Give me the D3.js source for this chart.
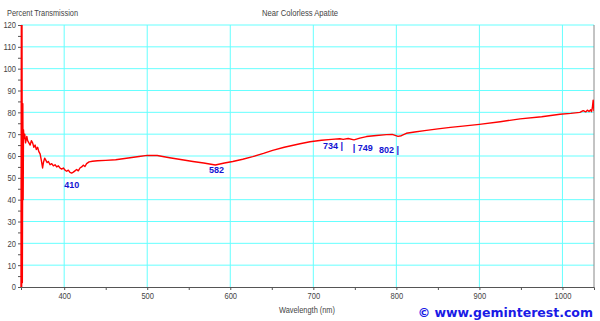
<!DOCTYPE html>
<html lang="en">
<head>
  <meta charset="UTF-8">
  <title>Near Colorless Apatite</title>
  <script src="https://d3js.org/d3.v7.min.js"></script>
  <style>
    body { margin: 0; background: #fff; }
    .lbl { font-family: "Liberation Sans", Arial, sans-serif; fill: #444; }
    .tick text { font-family: "Liberation Sans", Arial, sans-serif; fill: #444; font-size: 9px; }
    .peak { font-family: "Liberation Sans", Arial, sans-serif; font-weight: bold; fill: #1414d2; font-size: 9px; }
  </style>
</head>
<body>
  <svg width="600" height="321"></svg>

  <script>
    // spectrum
    const wavelength = [348, 348.4, 348.8, 349.2, 349.6, 350.2, 350.6, 351.0, 351.6, 352.5, 353.5, 355, 356, 357.5, 359, 360.5, 362, 363.5, 365, 366.5, 368, 369.5, 371, 372.5, 374, 375, 376.5, 378, 379.5, 381, 383, 385, 387, 389, 391, 393, 395, 397, 399, 401, 403, 405, 407, 409, 411, 413, 415, 417, 419, 421, 423, 425, 427, 430, 434, 440, 450, 462, 475, 490, 500, 512, 527, 542, 555, 568, 582, 593, 603, 615, 627, 640, 651, 665, 684, 696, 710, 722, 732, 736, 742, 749, 756, 764, 776, 788, 795, 802, 806, 812, 822, 834, 850, 865, 880, 900, 925, 949, 975, 997, 1010, 1021, 1025, 1028, 1030, 1032, 1034, 1035, 1036, 1037, 1038];
    const transmission = [0, 120, 0, 120, 2, 84, 40, 72, 68, 70, 66, 69, 67, 66, 65, 67, 66, 64, 65, 63, 64, 62, 61, 58, 54.5, 57, 59, 58, 57, 57.5, 56, 56.5, 55.5, 56, 55, 55.5, 54.5, 54, 54.5, 53.5, 53, 53.5, 52.5, 52.2, 52.6, 53.2, 53.8, 53.2, 54.5, 55, 55.8, 55.2, 56.5, 57.3, 57.6, 57.8, 58, 58.3, 59, 59.8, 60.3, 60.2, 59.2, 58.3, 57.5, 56.8, 55.9, 56.8, 57.5, 58.5, 59.7, 61.2, 62.6, 64.0, 65.6, 66.5, 67.2, 67.6, 67.9, 67.6, 68.0, 67.4, 68.2, 68.9, 69.4, 69.8, 69.9, 69.0, 69.3, 70.4, 71.0, 71.6, 72.4, 73.1, 73.7, 74.5, 75.7, 77.0, 78.0, 79.1, 79.5, 80.0, 80.8, 80.2, 81.0, 80.4, 81.2, 80.3, 82.0, 85.6, 80.5];

    const xTicks = [400, 500, 600, 700, 800, 900, 1000];
    const yTicks = [0, 10, 20, 30, 40, 50, 60, 70, 80, 90, 100, 110, 120];

    // absorption labels: text, anchor wavelength, value, anchor side
    const peakLabels = ["410", "582", "734 |", "| 749", "802 |"];
    const peakNm = [400, 583.4, 735.8, 747.4, 803.2];
    const peakVal = [45.5, 52, 63.3, 62.2, 61.2];
    const peakAnchor = ["start", "middle", "end", "start", "end"];

    const svg = d3.select("svg");
    const pl = 21, pr = 594, pt = 25, pb = 287;

    const x = d3.scaleLinear().domain([348, 1038]).range([pl, pr]);
    const y = d3.scaleLinear().domain([0, 120]).range([pb, pt]);

    // grid
    svg.append("g")
      .selectAll("line")
      .data(yTicks.filter(d => d > 0))
      .join("line")
      .attr("x1", pl).attr("x2", pr)
      .attr("y1", d => y(d)).attr("y2", d => y(d))
      .attr("stroke", "#6ff").attr("stroke-width", 1);

    svg.append("g")
      .selectAll("line")
      .data(xTicks)
      .join("line")
      .attr("x1", d => x(d)).attr("x2", d => x(d))
      .attr("y1", pt).attr("y2", pb)
      .attr("stroke", "#6ff").attr("stroke-width", 1);

    // right border
    svg.append("line")
      .attr("x1", pr).attr("x2", pr)
      .attr("y1", pt).attr("y2", pb)
      .attr("stroke", "#888");

    // axes
    const xAxis = svg.append("g")
      .attr("transform", `translate(0,${pb})`)
      .call(d3.axisBottom(x).tickValues(d3.range(400, 1038, 50)).tickSize(3)
        .tickFormat(d => xTicks.includes(d) ? d : ""));
    xAxis.select(".domain").attr("stroke", "#555");
    xAxis.selectAll(".tick line").attr("stroke", "#555");

    const yAxis = svg.append("g")
      .attr("transform", `translate(${pl},0)`)
      .call(d3.axisLeft(y).tickValues(d3.range(0, 121, 5)).tickSize(3).tickPadding(2)
        .tickFormat(d => yTicks.includes(d) ? d : ""));
    yAxis.select(".domain").attr("stroke", "#555");
    yAxis.selectAll(".tick line").attr("stroke", "#555");

    // narrow the tick numbers like the original
    svg.selectAll(".tick text")
      .filter(function() { return this.textContent !== ""; })
      .attr("textLength", function() { return this.textContent.length * 4.2; })
      .attr("lengthAdjust", "spacingAndGlyphs");

    // spectrum
    svg.append("clipPath").attr("id", "clip")
      .append("rect").attr("x", pl - 2).attr("y", pt).attr("width", pr - pl + 2).attr("height", pb - pt);

    const pts = wavelength.map((w, i) => [w, transmission[i]]);
    svg.append("path")
      .datum(pts)
      .attr("clip-path", "url(#clip)")
      .attr("fill", "none")
      .attr("stroke", "#ff0000")
      .attr("stroke-width", 1.4)
      .attr("stroke-linejoin", "round")
      .attr("d", d3.line().x(d => x(d[0])).y(d => y(d[1])));

    // peak labels
    svg.append("g")
      .selectAll("text")
      .data(peakLabels)
      .join("text")
      .attr("class", "peak")
      .attr("x", (d, i) => x(peakNm[i]))
      .attr("y", (d, i) => y(peakVal[i]))
      .attr("text-anchor", (d, i) => peakAnchor[i])
      .text(d => d);

    // titles
    svg.append("text").attr("class", "lbl").attr("x", 7).attr("y", 16)
      .attr("font-size", 9).attr("textLength", 71).attr("lengthAdjust", "spacingAndGlyphs")
      .text("Percent Transmission");
    svg.append("text").attr("class", "lbl").attr("x", 300).attr("y", 16)
      .attr("font-size", 9).attr("text-anchor", "middle")
      .attr("textLength", 76).attr("lengthAdjust", "spacingAndGlyphs")
      .text("Near Colorless Apatite");
    svg.append("text").attr("class", "lbl").attr("x", 307).attr("y", 312.5)
      .attr("font-size", 9).attr("text-anchor", "middle")
      .attr("textLength", 56).attr("lengthAdjust", "spacingAndGlyphs")
      .text("Wavelength (nm)");

    svg.append("text")
      .attr("x", 593).attr("y", 317)
      .attr("text-anchor", "end")
      .attr("font-family", "DejaVu Sans, Verdana, sans-serif")
      .attr("font-weight", "bold")
      .attr("font-size", 12.5)
      .attr("fill", "#1a1ae6")
      .text("© www.geminterest.com");
  </script>
</body>
</html>
